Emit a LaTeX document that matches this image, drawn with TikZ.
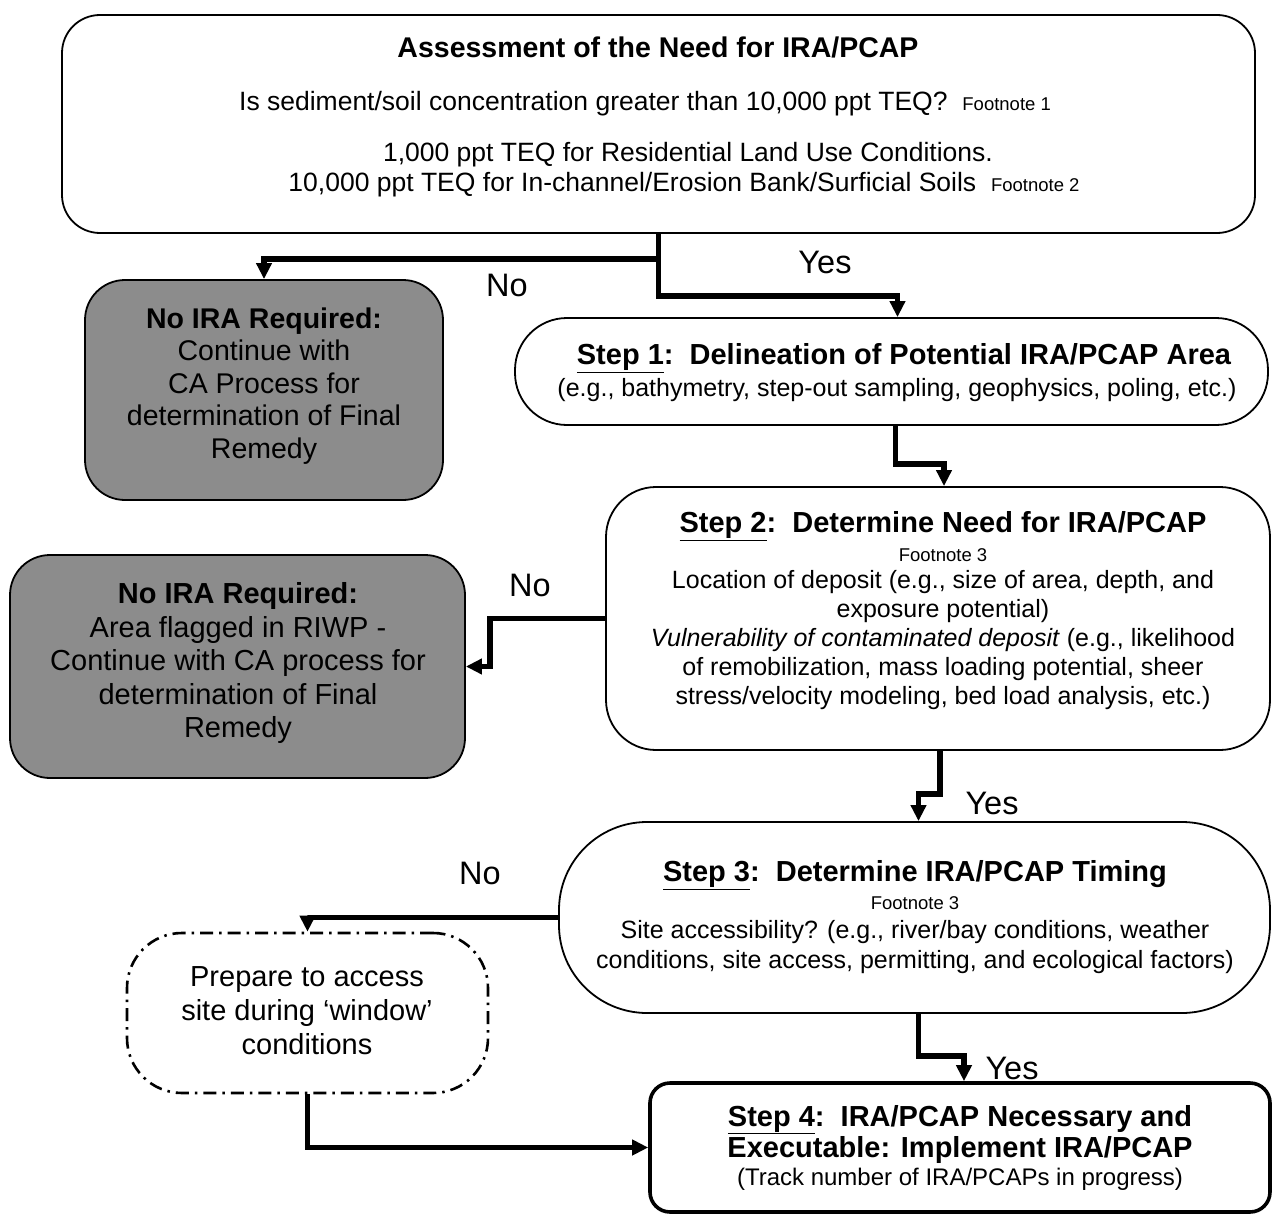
\documentclass[tikz,border=0pt]{standalone}
\usepackage{fontspec}
\setmainfont{Liberation Sans}
\usetikzlibrary{arrows.meta,positioning,calc}
\tikzset{
  box/.style={draw=black, line width=1.8pt, fill=white, inner sep=0pt},
  graybox/.style={draw=black, line width=1.8pt, fill=black!45, inner sep=0pt, rounded corners=40pt},
  conn/.style={line width=5.5pt, -{Triangle[length=16pt,width=15pt]}},
  txt/.style={inner sep=0pt, font=\fontsize{25}{29}\selectfont},
  btxt/.style={inner sep=0pt, font=\fontsize{29}{33}\selectfont\bfseries},
  stxt/.style={inner sep=0pt, font=\fontsize{18.5}{21}\selectfont},
  lbl/.style={inner sep=0pt, font=\fontsize{32.5}{36}\selectfont},
}
\newcommand{\fn}[1]{{\fontsize{18.5}{21}\selectfont #1}}
\begin{document}
\begin{tikzpicture}[x=1pt,y=-1pt]
\useasboundingbox (0,0) rectangle (1275,1223);

% boxes
\node[box, rounded corners=38pt, minimum width=1193pt, minimum height=218pt] (top) at (658.5,124) {};
\node[graybox, minimum width=358pt, minimum height=220pt] (g1) at (264,390) {};
\node[box, rounded corners=52pt, minimum width=753pt, minimum height=107pt] (s1) at (891.5,371.5) {};
\node[box, rounded corners=50pt, minimum width=664pt, minimum height=263pt] (s2) at (938,618.5) {};
\node[graybox, minimum width=455pt, minimum height=223pt] (g2) at (237.5,666.5) {};
\node[box, rounded corners=88pt, minimum width=711pt, minimum height=191pt] (s3) at (914.5,917.5) {};
\node[draw=black, line width=2.6pt, dash pattern=on 13pt off 6pt on 2.5pt off 6pt, rounded corners=55pt, minimum width=361pt, minimum height=160pt, inner sep=0pt] (d) at (307.5,1013) {};
\node[box, line width=3.6pt, rounded corners=20pt, minimum width=620pt, minimum height=129pt] (s4) at (960,1147.5) {};

% top box text
\node[btxt, font=\fontsize{28.5}{33}\selectfont\bfseries] (t1) at (658,47) {Assessment of the Need for IRA/PCAP};
\node[txt, font=\fontsize{26.5}{30}\selectfont] (t2) at (645,104) {Is sediment/soil concentration greater than 10,000 ppt TEQ?\ \ \fn{Footnote 1}};
\node[txt, font=\fontsize{26.5}{30}\selectfont] (t3) at (688,155) {1,000 ppt TEQ for Residential Land Use Conditions.};
\node[txt, font=\fontsize{26.5}{30}\selectfont] (t4) at (684,185) {10,000 ppt TEQ for In-channel/Erosion Bank/Surficial Soils\ \ \fn{Footnote 2}};

% gray box 1 text
\node[txt, align=center, font=\fontsize{28.5}{32.5}\selectfont] (g1t) at (264,386) {\textbf{No IRA Required:}\\Continue with\\CA Process for\\determination of Final\\Remedy};

% step 1 text
\node[btxt] (s1a) at (904,358) {\underline{Step 1}:\ \ Delineation of Potential IRA/PCAP Area};
\node[txt] (s1b) at (897,390) {(e.g., bathymetry, step-out sampling, geophysics, poling, etc.)};

% step 2 text
\node[btxt] (s2a) at (943,526) {\underline{Step 2}:\ \ Determine Need for IRA/PCAP};
\node[stxt] (s2b) at (943,555) {Footnote 3};
\node[txt, align=center] (s2c) at (943,640) {Location of deposit (e.g., size of area, depth, and\\exposure potential)\\\textit{Vulnerability of contaminated deposit} (e.g., likelihood\\of remobilization, mass loading potential, sheer\\stress/velocity modeling, bed load analysis, etc.)};

% gray box 2 text
\node[txt, align=center, font=\fontsize{29}{33.5}\selectfont] (g2t) at (238,663) {\textbf{No IRA Required:}\\Area flagged in RIWP -\\Continue with CA process for\\determination of Final\\Remedy};

% step 3 text
\node[btxt] (s3a) at (915,875) {\underline{Step 3}:\ \ Determine IRA/PCAP Timing};
\node[stxt] (s3b) at (915,903) {Footnote 3};
\node[txt, align=center, font=\fontsize{25}{30}\selectfont] (s3c) at (915,947) {Site accessibility? (e.g., river/bay conditions, weather\\conditions, site access, permitting, and ecological factors)};

% dashed box text
\node[txt, align=center, font=\fontsize{29}{34}\selectfont] (dt) at (307,1011) {Prepare to access\\site during `window'\\conditions};

% step 4 text
\node[btxt, align=center, font=\fontsize{29}{31}\selectfont\bfseries] (s4a) at (960,1134) {\underline{Step 4}:\ \ IRA/PCAP Necessary and\\Executable: Implement IRA/PCAP};
\node[txt, font=\fontsize{24}{28}\selectfont] (s4b) at (960,1179) {(Track number of IRA/PCAPs in progress)};

% labels
\node[lbl] (l1) at (507,285) {No};
\node[lbl] (l2) at (825,262) {Yes};
\node[lbl] (l3) at (530,585) {No};
\node[lbl] (l4) at (992,803) {Yes};
\node[lbl] (l5) at (480,873) {No};
\node[lbl] (l6) at (1012,1068) {Yes};

% connectors
\draw[conn] (top.south) -- ++(0,25) -| (g1.north);
\draw[conn] (top.south) -- ++(0,62) -| ([xshift=6pt]s1.north);
\draw[conn] ([xshift=4pt]s1.south) -- ++(0,38) -| ([xshift=6pt]s2.north);
\draw[conn] (s2.west) -- ++(-115,0) |- (g2.east);
\draw[conn] ([xshift=2pt]s2.south) -- ++(0,43) -| ([xshift=4pt]s3.north);
\draw[conn] (s3.west) -| (d.north);
\draw[conn] ([xshift=4pt]s3.south) -- ++(0,42) -| ([xshift=4pt]s4.north);
\draw[conn, line width=4.5pt] (d.south) |- (s4.west);
\end{tikzpicture}
\end{document}
